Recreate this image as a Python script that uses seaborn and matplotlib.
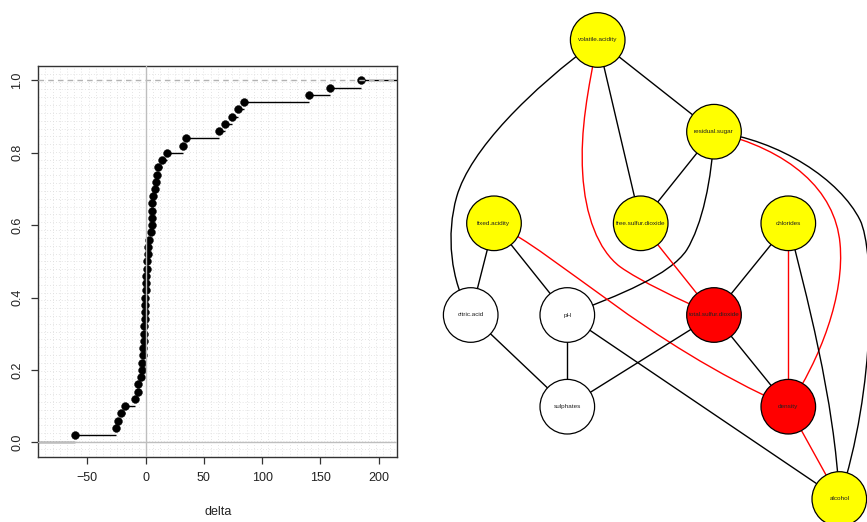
import numpy as np
import pandas as pd
import matplotlib
matplotlib.use("Agg")
import matplotlib.pyplot as plt
from matplotlib.patches import Circle, PathPatch
from matplotlib.path import Path
import seaborn as sns

# ---------------- data ----------------
# ECDF of delta (sorted sample values, 50 observations)
delta_values = [-61.0, -25.6, -23.5, -20.9, -17.4, -9.4, -6.9, -6.3, -3.8, -3.5,
                -2.9, -2.3, -2.0, -1.7, -1.4, -1.1, -0.9, -0.6, -0.4, -0.3,
                0.0, 0.4, 0.6, 1.0, 1.2, 1.7, 2.3, 2.9, 5.0, 5.3,
                5.4, 5.7, 5.8, 6.3, 8.0, 8.6, 9.4, 10.3, 14.5, 18.0,
                32.3, 35.1, 62.9, 68.0, 74.6, 79.7, 84.6, 140.6, 158.6, 185.0]
x_ticks = [-50, 0, 50, 100, 150, 200]
y_ticks = [0.0, 0.2, 0.4, 0.6, 0.8, 1.0]
y_tick_labels = ["0.0", "0.2", "0.4", "0.6", "0.8", "1.0"]
x_label = "delta"

# graph: nodes, groups, edges
node_names = ["volatile.acidity", "residual.sugar", "fixed.acidity", "free.sulfur.dioxide",
              "chlorides", "citric.acid", "pH", "total.sulfur.dioxide", "sulphates",
              "density", "alcohol"]
node_group = ["yellow", "yellow", "yellow", "yellow", "yellow", "white", "white",
              "red", "white", "red", "yellow"]
edge_from = ["volatile.acidity", "volatile.acidity", "volatile.acidity", "volatile.acidity",
             "residual.sugar", "residual.sugar", "residual.sugar", "residual.sugar",
             "fixed.acidity", "fixed.acidity", "fixed.acidity", "free.sulfur.dioxide",
             "chlorides", "chlorides", "chlorides", "citric.acid", "pH", "pH",
             "total.sulfur.dioxide", "total.sulfur.dioxide", "density"]
edge_to = ["citric.acid", "free.sulfur.dioxide", "residual.sugar", "total.sulfur.dioxide",
           "free.sulfur.dioxide", "pH", "alcohol", "density",
           "citric.acid", "pH", "density", "total.sulfur.dioxide",
           "total.sulfur.dioxide", "density", "alcohol", "sulphates", "sulphates", "alcohol",
           "sulphates", "density", "alcohol"]
edge_sign = ["pos", "pos", "pos", "neg",
             "pos", "pos", "pos", "neg",
             "pos", "pos", "neg", "neg",
             "pos", "neg", "pos", "pos", "pos", "pos",
             "pos", "pos", "neg"]

# ---------------- layout (pixel coordinates of graph drawing) ----------------
node_xy = {
    "volatile.acidity": (597.7, 40.0), "residual.sugar": (714.0, 131.7),
    "fixed.acidity": (494.0, 223.3), "free.sulfur.dioxide": (640.7, 223.3),
    "chlorides": (788.3, 223.3), "citric.acid": (470.7, 315.0), "pH": (567.3, 315.0),
    "total.sulfur.dioxide": (714.0, 315.0), "sulphates": (567.3, 406.7),
    "density": (788.3, 406.7), "alcohol": (839.3, 499.0),
}
spline_ctrl = {
    ("volatile.acidity", "citric.acid"): [(530, 90), (470, 150), (456.7, 196.7),
                                          (446.1, 234.1), (450, 280)],
    ("volatile.acidity", "total.sulfur.dioxide"): [(588, 90), (580, 130), (582.7, 173.3),
                                                   (585, 215), (598, 250), (620, 266.7),
                                                   (640, 281), (680, 300)],
    ("residual.sugar", "pH"): [(712, 180), (702, 225), (686.7, 250), (670, 275), (620, 295)],
    ("residual.sugar", "alcohol"): [(780, 140), (840, 180), (860, 220), (875, 250), (876, 390)],
    ("residual.sugar", "density"): [(790, 150), (835, 190), (840, 243.3), (845, 295), (820, 360)],
    ("fixed.acidity", "density"): [(560, 255), (640, 340)],
    ("chlorides", "alcohol"): [(805, 290), (835, 400)],
}
fill_colors = {"yellow": "#FFFF00", "red": "#FF0000", "white": "#FFFFFF"}
edge_colors = {"pos": "black", "neg": "#FF0000"}

# ---------------- figure ----------------
sns.set_style("white")
plt.rcParams["font.family"] = ["Liberation Sans", "DejaVu Sans"]

W, H = 867, 522
fig = plt.figure(figsize=(W / 100, H / 100), dpi=100)

# ----- left panel: ECDF -----
L, R, T, B = 38.3, 397.3, 66.0, 456.7
ax = fig.add_axes([L / W, 1 - B / H, (R - L) / W, (B - T) / H])
xlim = (-92.1, 216.1)
ylim = (-0.04, 1.04)
ax.set_xlim(xlim)
ax.set_ylim(ylim)

# dotted fine grid (50 x 50 cells)
for gx in np.linspace(xlim[0], xlim[1], 51)[1:-1]:
    ax.axvline(gx, color="#DCDCDC", lw=0.6, ls=(0, (1, 2.5)), zorder=0)
for gy in np.linspace(ylim[0], ylim[1], 51)[1:-1]:
    ax.axhline(gy, color="#DCDCDC", lw=0.6, ls=(0, (1, 2.5)), zorder=0)

xs = np.array(delta_values)
n = len(xs)
df = pd.DataFrame({"delta": xs, "Fn": np.arange(1, n + 1) / n})
right_ends = np.append(xs[1:], xlim[1])
ax.hlines(df["Fn"], xs, right_ends, color="black", lw=1.0, zorder=2)
ax.hlines(0, xlim[0], xs[0], color="black", lw=1.0, zorder=2)
sns.scatterplot(data=df, x="delta", y="Fn", ax=ax, color="black", s=32,
                edgecolor="black", linewidth=0.3, zorder=3, legend=False)

ax.axhline(1.0, color="#B3B3B3", lw=1.0, ls=(0, (4, 3)), zorder=4)
ax.axhline(0.0, color="#BEBEBE", lw=1.0, zorder=4)
ax.axvline(0.0, color="#BEBEBE", lw=1.0, zorder=4)

ax.set_xticks(x_ticks)
ax.set_xticklabels([f"\u2212{abs(v)}" if v < 0 else str(v) for v in x_ticks])
ax.set_yticks(y_ticks)
ax.set_yticklabels(y_tick_labels, rotation=90, va="center")
ax.tick_params(axis="both", direction="out", length=5, width=0.9, color="#333333",
               labelsize=9, pad=6, colors="#333333", labelcolor="#222222")
ax.tick_params(axis="both", which="both", bottom=True, left=True)
ax.set_xlabel(x_label, fontsize=9, labelpad=16, color="#222222")
ax.set_ylabel("")
for sp in ax.spines.values():
    sp.set_visible(True)
    sp.set_color("#333333")
    sp.set_linewidth(1.0)

# ----- right panel: graph -----
gx0 = 433.5
ax2 = fig.add_axes([gx0 / W, 0, (W - gx0) / W, 1])
ax2.set_xlim(gx0, W)
ax2.set_ylim(H, 0)
ax2.axis("off")

radius = 27.3
for a, b, sgn in zip(edge_from, edge_to, edge_sign):
    p0 = node_xy[a]
    p1 = node_xy[b]
    ctrl = spline_ctrl.get((a, b))
    if ctrl is None:
        verts = [p0, p1]
        codes = [Path.MOVETO, Path.LINETO]
    else:
        verts = [p0] + list(ctrl) + [p1]
        codes = [Path.MOVETO] + [Path.CURVE4] * (len(verts) - 1)
    ax2.add_patch(PathPatch(Path(verts, codes), facecolor="none",
                            edgecolor=edge_colors[sgn], lw=1.0, zorder=1))

for name, grp in zip(node_names, node_group):
    cx, cy = node_xy[name]
    ax2.add_patch(Circle((cx, cy), radius, facecolor=fill_colors[grp],
                         edgecolor="black", lw=0.9, zorder=2))
    ax2.text(cx, cy, name, ha="center", va="center", fontsize=4.6,
             color="#222222", zorder=3)

fig.savefig("out.png", dpi=100)
